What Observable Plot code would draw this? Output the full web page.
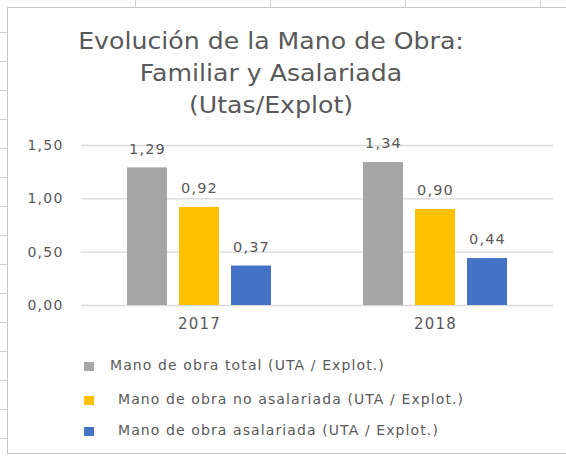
<!DOCTYPE html>
<html><head><meta charset="utf-8">
<script src="https://cdn.jsdelivr.net/npm/d3@7"></script>
<script src="https://cdn.jsdelivr.net/npm/@observablehq/plot@0.6"></script>
<style>
html,body{margin:0;padding:0;}
body{width:566px;height:457px;overflow:hidden;position:relative;background:#fff;font-family:"DejaVu Sans",sans-serif;}
#bgtop{position:absolute;left:0;top:0;width:566px;height:8px;
  background:repeating-linear-gradient(to right,#fff 0,#fff 134px,#d0d0d0 134px,#d0d0d0 135px);background-position:1px 0;}
#bgleft{position:absolute;left:0;top:0;width:8px;height:457px;
  background:repeating-linear-gradient(to bottom,#fff 0,#fff 28px,#d0d0d0 28px,#d0d0d0 29px);background-position:0 4px;}
#frame{position:absolute;left:7px;top:7px;width:580px;height:445px;border:1px solid #c8c8c8;background:#fff;}
#title{position:absolute;left:0;width:542px;top:25px;text-align:center;color:#595959;font-size:22.5px;line-height:32px;transform:scaleX(1.12);transform-origin:271px 0;}
#chart{position:absolute;left:0;top:120px;}
#chart svg text{letter-spacing:1.2px;}
#legend{position:absolute;left:0;top:0;}
.li{position:absolute;color:#595959;font-size:14px;letter-spacing:1.1px;white-space:nowrap;}
.sw{position:absolute;width:10px;height:9px;}
</style></head>
<body>
<div id="bgtop"></div><div id="bgleft"></div><div id="frame"></div>
<div id="title">Evolución de la Mano de Obra:<br>Familiar y Asalariada<br>(Utas/Explot)</div>
<div id="chart"></div>
<div id="legend"></div>
<script>
const years = ["2017", "2018"];
const series = [
  "Mano de obra total (UTA / Explot.)",
  "Mano de obra no asalariada (UTA / Explot.)",
  "Mano de obra asalariada (UTA / Explot.)"
];
const valTotal = [1.29, 1.34];
const valNoAsalariada = [0.92, 0.90];
const valAsalariada = [0.37, 0.44];
const colors = ["#a5a5a5", "#ffc000", "#4472c4"];
const yTicks = [0, 0.5, 1.0, 1.5];

const seriesValues = [valTotal, valNoAsalariada, valAsalariada];
const rows = [];
years.forEach((yr, i) => series.forEach((s, j) => rows.push({year: yr, serie: s, value: seriesValues[j][i]})));
const fmt = v => d3.format(".2f")(v).replace(".", ",");
const txt = "#595959";

const chart = Plot.plot({
  width: 566, height: 220,
  marginLeft: 81, marginRight: 13, marginTop: 25, marginBottom: 35,
  style: {fontFamily: "DejaVu Sans, sans-serif", background: "transparent"},
  fx: {domain: years, padding: 0, label: null},
  x: {domain: series, paddingInner: 0.238, paddingOuter: 0.867, axis: null},
  y: {domain: [0, 1.5], label: null},
  color: {domain: series, range: colors},
  marks: [
    Plot.gridY(yTicks, {stroke: "#d9d9d9", strokeOpacity: 1, strokeWidth: 1.3}),
    Plot.axisY({ticks: yTicks, tickFormat: fmt, tickSize: 0, tickPadding: 18, fill: txt, fontSize: 14, label: null}),
    Plot.axisFx({anchor: "bottom", tickSize: 0, tickPadding: 13, fill: txt, fontSize: 15, label: null}),
    Plot.barY(rows, {fx: "year", x: "serie", y: "value", fill: "serie"}),
    Plot.text(rows, {fx: "year", x: "serie", y: "value", text: d => fmt(d.value), dy: -19, fill: txt, fontSize: 14.5})
  ]
});
document.getElementById("chart").appendChild(chart);

const legend = document.getElementById("legend");
const legPos = [{sx: 84, tx: 110, y: 366}, {sx: 84, tx: 118, y: 400}, {sx: 84, tx: 118, y: 431}];
series.forEach((s, j) => {
  const sw = document.createElement("div");
  sw.className = "sw";
  sw.style.left = legPos[j].sx + "px";
  sw.style.top = (legPos[j].y - 4.5) + "px";
  sw.style.background = colors[j];
  legend.appendChild(sw);
  const t = document.createElement("div");
  t.className = "li";
  t.style.left = legPos[j].tx + "px";
  t.style.top = (legPos[j].y - 9) + "px";
  t.textContent = s;
  legend.appendChild(t);
});
</script>
</body></html>
